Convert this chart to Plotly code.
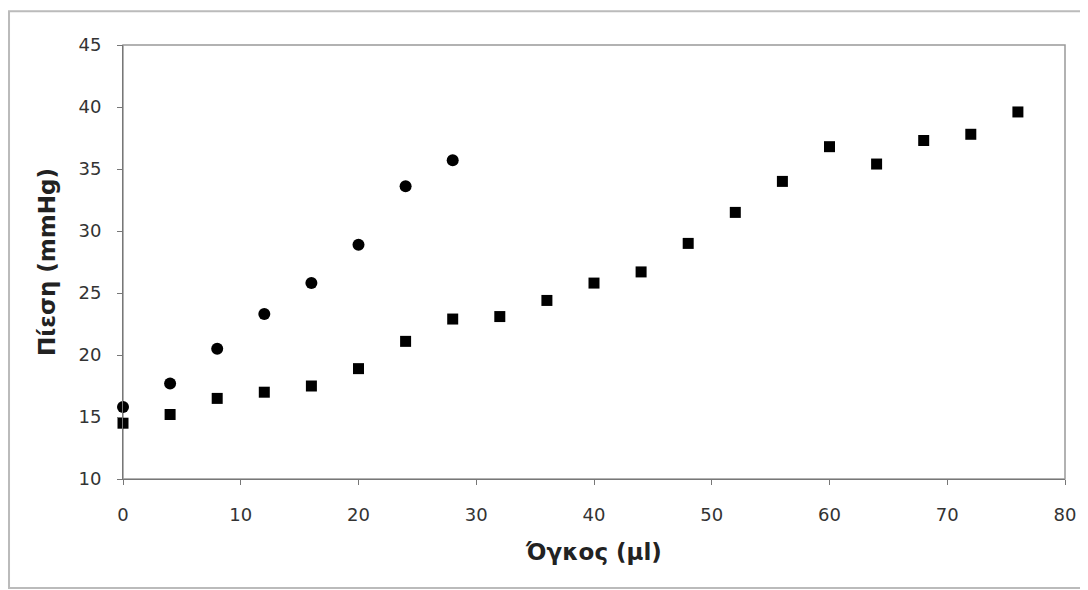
import plotly.graph_objects as go

x_circles = [0, 4, 8, 12, 16, 20, 24, 28]
y_circles = [15.8, 17.7, 20.5, 23.3, 25.8, 28.9, 33.6, 35.7]

x_squares = [0, 4, 8, 12, 16, 20, 24, 28, 32, 36, 40, 44, 48, 52, 56, 60, 64, 68, 72, 76]
y_squares = [14.5, 15.2, 16.5, 17.0, 17.5, 18.9, 21.1, 22.9, 23.1, 24.4, 25.8, 26.7,
             29.0, 31.5, 34.0, 36.8, 35.4, 37.3, 37.8, 39.6]

x_ticks = [0, 10, 20, 30, 40, 50, 60, 70, 80]
y_ticks = [10, 15, 20, 25, 30, 35, 40, 45]

x_title = "Όγκος (μl)"
y_title = "Πίεση (mmHg)"

fig = go.Figure()
fig.add_trace(go.Scatter(x=x_squares, y=y_squares, mode="markers",
                         marker=dict(symbol="square", size=11, color="black"),
                         cliponaxis=False, showlegend=False))
fig.add_trace(go.Scatter(x=x_circles, y=y_circles, mode="markers",
                         marker=dict(symbol="circle", size=12, color="black"),
                         cliponaxis=False, showlegend=False))

font_family = "DejaVu Sans, Verdana, sans-serif"

fig.update_layout(
    width=1088, height=590,
    margin=dict(l=115, r=31, t=37, b=119),
    paper_bgcolor="white", plot_bgcolor="white",
    font=dict(family=font_family, color="#333333", size=18),
    xaxis=dict(range=[0, 80], tickvals=x_ticks, ticks="outside", ticklen=5,
               tickcolor="#777777", showgrid=False, zeroline=False,
               showline=True, linecolor="#777777", linewidth=1, mirror=False,
               tickfont=dict(size=18, color="#333333"), ticklabelstandoff=14,
               title=dict(text="<b>" + x_title + "</b>", font=dict(size=23, color="#222222"),
                          standoff=20)),
    yaxis=dict(range=[10, 45], tickvals=y_ticks, ticks="outside", ticklen=5,
               tickcolor="#777777", showgrid=False, zeroline=False,
               showline=True, linecolor="#777777", linewidth=1, mirror=False,
               tickfont=dict(size=18, color="#333333"), ticklabelstandoff=12,
               title=dict(text="<b>" + y_title + "</b>", font=dict(size=23, color="#222222"),
                          standoff=16)),
    shapes=[
        dict(type="rect", xref="paper", yref="paper", x0=0, y0=0, x1=1, y1=1,
             line=dict(color="#999999", width=1.5), layer="below"),
        dict(type="rect", xref="paper", yref="paper", x0=-0.121, y0=-0.251,
             x1=1.02, y1=1.078, line=dict(color="#bbbbbb", width=2), layer="below"),
    ],
)

fig.write_html("out.html")
